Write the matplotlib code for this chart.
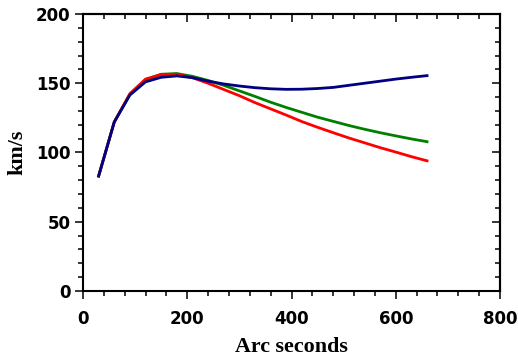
import matplotlib
matplotlib.use("Agg")
import matplotlib.pyplot as plt
from matplotlib.ticker import MultipleLocator

# arc seconds along the slit
arcsec = [30, 60, 90, 120, 150, 180, 210, 240, 270, 300, 330, 360,
          390, 420, 450, 480, 510, 540, 570, 600, 630, 660]

vel_green = [83, 122, 142, 152.5, 156.5, 157, 155, 152, 148.5, 144.5, 140.5,
             136.3, 132.5, 129, 125.5, 122.5, 119.5, 116.8, 114.3, 112, 109.8, 107.8]
vel_red = [83, 122, 142.5, 153, 156.3, 156.5, 154, 150, 145.5, 141, 136,
           131.5, 127, 122.3, 118.2, 114.3, 110.5, 107, 103.5, 100.3, 97, 94]
vel_blue = [83, 122, 141.5, 151, 154.3, 155.3, 154, 151.5, 149.5, 148, 146.8,
            146, 145.6, 145.7, 146.2, 147, 148.5, 150, 151.5, 153, 154.3, 155.5]

fig = plt.figure(figsize=(5.18, 3.6), dpi=100)
ax = fig.add_axes([0.1602, 0.1917, 0.8051, 0.7694])

ax.plot(arcsec, vel_green, color="#008000", lw=2)
ax.plot(arcsec, vel_red, color="#ff0000", lw=2)
ax.plot(arcsec, vel_blue, color="#000080", lw=2)

ax.set_xlim(0, 800)
ax.set_ylim(0, 200)
ax.xaxis.set_major_locator(MultipleLocator(200))
ax.xaxis.set_minor_locator(MultipleLocator(40))
ax.yaxis.set_major_locator(MultipleLocator(50))
ax.yaxis.set_minor_locator(MultipleLocator(10))

for s in ax.spines.values():
    s.set_linewidth(1.5)

# bottom/left ticks outward, top/right inward
ax.tick_params(which="both", bottom=True, left=True, top=False, right=False,
               direction="out", width=1.1)
ax.tick_params(which="major", length=6, pad=3)
ax.tick_params(axis="x", which="major", pad=8)
ax.tick_params(which="minor", length=3.5)

sec_x = ax.secondary_xaxis("top")
sec_x.xaxis.set_major_locator(MultipleLocator(200))
sec_x.xaxis.set_minor_locator(MultipleLocator(40))
sec_x.tick_params(which="both", direction="in", width=1.1, labeltop=False)
sec_x.tick_params(which="major", length=6)
sec_x.tick_params(which="minor", length=3.5)
sec_x.spines["top"].set_linewidth(1.5)

sec_y = ax.secondary_yaxis("right")
sec_y.yaxis.set_major_locator(MultipleLocator(50))
sec_y.yaxis.set_minor_locator(MultipleLocator(10))
sec_y.tick_params(which="both", direction="in", width=1.1, labelright=False)
sec_y.tick_params(which="major", length=6)
sec_y.tick_params(which="minor", length=3.5)
sec_y.spines["right"].set_linewidth(1.5)

for lab in ax.get_xticklabels() + ax.get_yticklabels():
    lab.set_fontfamily("DejaVu Sans")
    lab.set_fontweight("bold")
    lab.set_fontsize(12)

ax.set_xlabel("Arc seconds", fontfamily="Liberation Serif", fontweight="bold",
              fontsize=15.8, labelpad=6)
ax.set_ylabel("km/s", fontfamily="Liberation Serif", fontweight="bold",
              fontsize=15.8, labelpad=6)

fig.savefig("out.png", dpi=100)
